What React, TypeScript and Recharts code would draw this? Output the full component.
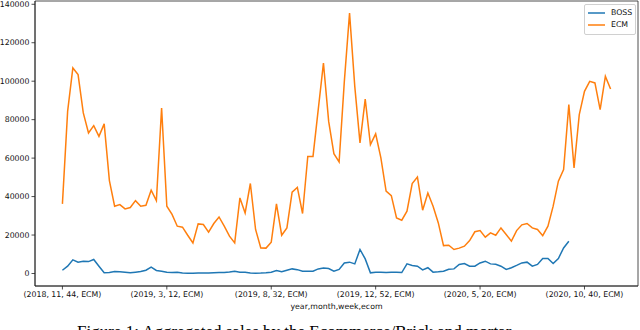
import React from "react";
import { LineChart, Line, XAxis, YAxis, Legend, ReferenceArea } from "recharts";

const ECM: number[] = [
  36200, 84300, 106900, 103400, 83500, 73100, 76900, 71300, 77800, 48300,
  35000, 35800, 33600, 34300, 37900, 35000, 35500, 43300, 37900, 86100,
  35000, 30700, 24600, 24100, 19900, 15900, 25800, 25500, 21500, 26000,
  29400, 24600, 19400, 15900, 39300, 31500, 46800, 22900, 13300, 13200,
  16300, 36200, 19900, 23700, 42300, 44800, 31200, 60900, 60900, 85200,
  109400, 79100, 62300, 58000, 99900, 135400, 97300, 67900, 90700, 67000,
  72600, 60100, 42800, 40500, 28900, 27700, 32400, 46800, 50200, 32900,
  41900, 35000, 26300, 14500, 14700, 12500, 13200, 14200, 17100, 21700,
  22300, 18900, 21100, 19900, 23700, 20300, 16800, 22300, 25300, 26000,
  23700, 22900, 19700, 24600, 35000, 48000, 54000, 87800, 54900, 82600,
  94700, 99900, 99100, 85200, 102500, 95900,
];

const BOSS: number[] = [
  1700, 3800, 7100, 5900, 6400, 6200, 7300, 3800, 400, 500,
  1000, 900, 700, 400, 700, 1000, 1700, 3300, 1600, 1200,
  700, 500, 700, 300, 100, 100, 200, 200, 300, 400,
  500, 500, 800, 1200, 700, 600, 200, 100, 200, 400,
  700, 1500, 900, 1700, 2400, 2000, 1200, 1200, 1200, 2400,
  2800, 2600, 1200, 2100, 5500, 5900, 5000, 12500, 7600, 350,
  700, 700, 500, 700, 700, 500, 5000, 4200, 3800, 1900,
  3000, 700, 900, 1200, 2200, 2400, 4700, 5200, 3800, 3800,
  5500, 6400, 5000, 4800, 3800, 2100, 3000, 4200, 5500, 5900,
  3800, 4700, 7800, 7800, 5200, 7800, 13300, 16800,
];

const TICK_POS: number[] = [0, 20, 40, 60, 80, 100];
const TICK_LABELS: string[] = [
  "(2018, 11, 44, ECM)",
  "(2019, 3, 12, ECM)",
  "(2019, 8, 32, ECM)",
  "(2019, 12, 52, ECM)",
  "(2020, 5, 20, ECM)",
  "(2020, 10, 40, ECM)",
];
const Y_TICKS: number[] = [0, 20000, 40000, 60000, 80000, 100000, 120000, 140000];

const SERIES = [
  { key: "BOSS", color: "#1f77b4" },
  { key: "ECM", color: "#ff7f0e" },
];

const data = ECM.map((e, i) => ({
  i,
  ECM: e,
  BOSS: i < BOSS.length ? BOSS[i] : null,
}));

const X_DOMAIN: [number, number] = [-5.25, 110.25];
const Y_DOMAIN: [number, number] = [-6500, 141700];

const FONT = "'DejaVu Sans', sans-serif";
const tickStyle = { fill: "#111", fontSize: 7.8, fontFamily: FONT };

const renderLegend = () => (
  <div
    style={{
      border: "1px solid #d0d0d0",
      borderRadius: 2,
      background: "rgba(255,255,255,0.8)",
      padding: "2px 3px 2px 3px",
      fontFamily: FONT,
      fontSize: 7.8,
      color: "#111",
      lineHeight: "12.3px",
    }}
  >
    {SERIES.map((s) => (
      <div key={s.key} style={{ display: "flex", alignItems: "center", whiteSpace: "nowrap" }}>
        <svg width={17} height={6} style={{ marginRight: 6 }}>
          <line x1={0} y1={3} x2={17} y2={3} stroke={s.color} strokeWidth={1.5} />
        </svg>
        <span>{s.key}</span>
      </div>
    ))}
  </div>
);

export default function App() {
  return (
    <div
      style={{
        position: "absolute",
        left: 0,
        top: 0,
        width: 640,
        height: 330,
        overflow: "hidden",
        background: "#fff",
      }}
    >
      <LineChart
        width={640}
        height={330}
        data={data}
        margin={{ top: 1, right: 2, left: 0, bottom: 0 }}
      >
        <XAxis
          dataKey="i"
          type="number"
          domain={X_DOMAIN}
          allowDataOverflow
          ticks={TICK_POS}
          tickFormatter={(v: number) => TICK_LABELS[TICK_POS.indexOf(v)] ?? ""}
          tick={tickStyle}
          tickSize={3.5}
          tickMargin={2}
          height={44}
          stroke="#222"
          axisLine={{ stroke: "#222", strokeWidth: 0.8 }}
          tickLine={{ stroke: "#222", strokeWidth: 0.8 }}
          label={{
            value: "year,month,week,ecom",
            position: "insideBottom",
            offset: 21,
            style: { fill: "#111", fontSize: 7.8, fontFamily: FONT },
          }}
        />
        <YAxis
          type="number"
          domain={Y_DOMAIN}
          allowDataOverflow
          ticks={Y_TICKS}
          tick={tickStyle}
          tickSize={3.5}
          tickMargin={2}
          width={35}
          axisLine={{ stroke: "#222", strokeWidth: 0.8 }}
          tickLine={{ stroke: "#222", strokeWidth: 0.8 }}
        />
        <ReferenceArea
          x1={X_DOMAIN[0]}
          x2={X_DOMAIN[1]}
          y1={Y_DOMAIN[0]}
          y2={Y_DOMAIN[1]}
          fill="none"
          stroke="#222"
          strokeWidth={0.8}
          fillOpacity={0}
        />
        <Line
          dataKey="BOSS"
          stroke="#1f77b4"
          strokeWidth={1.5}
          dot={false}
          isAnimationActive={false}
          connectNulls={false}
        />
        <Line
          dataKey="ECM"
          stroke="#ff7f0e"
          strokeWidth={1.5}
          dot={false}
          isAnimationActive={false}
        />
        <Legend
          layout="horizontal"
          align="center"
          verticalAlign="middle"
          content={renderLegend}
          wrapperStyle={{ position: "absolute", top: 4, left: 584, width: "auto", right: "auto" }}
        />
      </LineChart>
      <div
        style={{
          position: "absolute",
          left: 77,
          top: 322,
          fontFamily: "'Liberation Serif', 'DejaVu Serif', serif",
          fontSize: 17,
          color: "#000",
          whiteSpace: "nowrap",
          lineHeight: "20px",
        }}
      >
        Figure 1: Aggregated sales by the Ecommerce/Brick and mortar
      </div>
    </div>
  );
}
